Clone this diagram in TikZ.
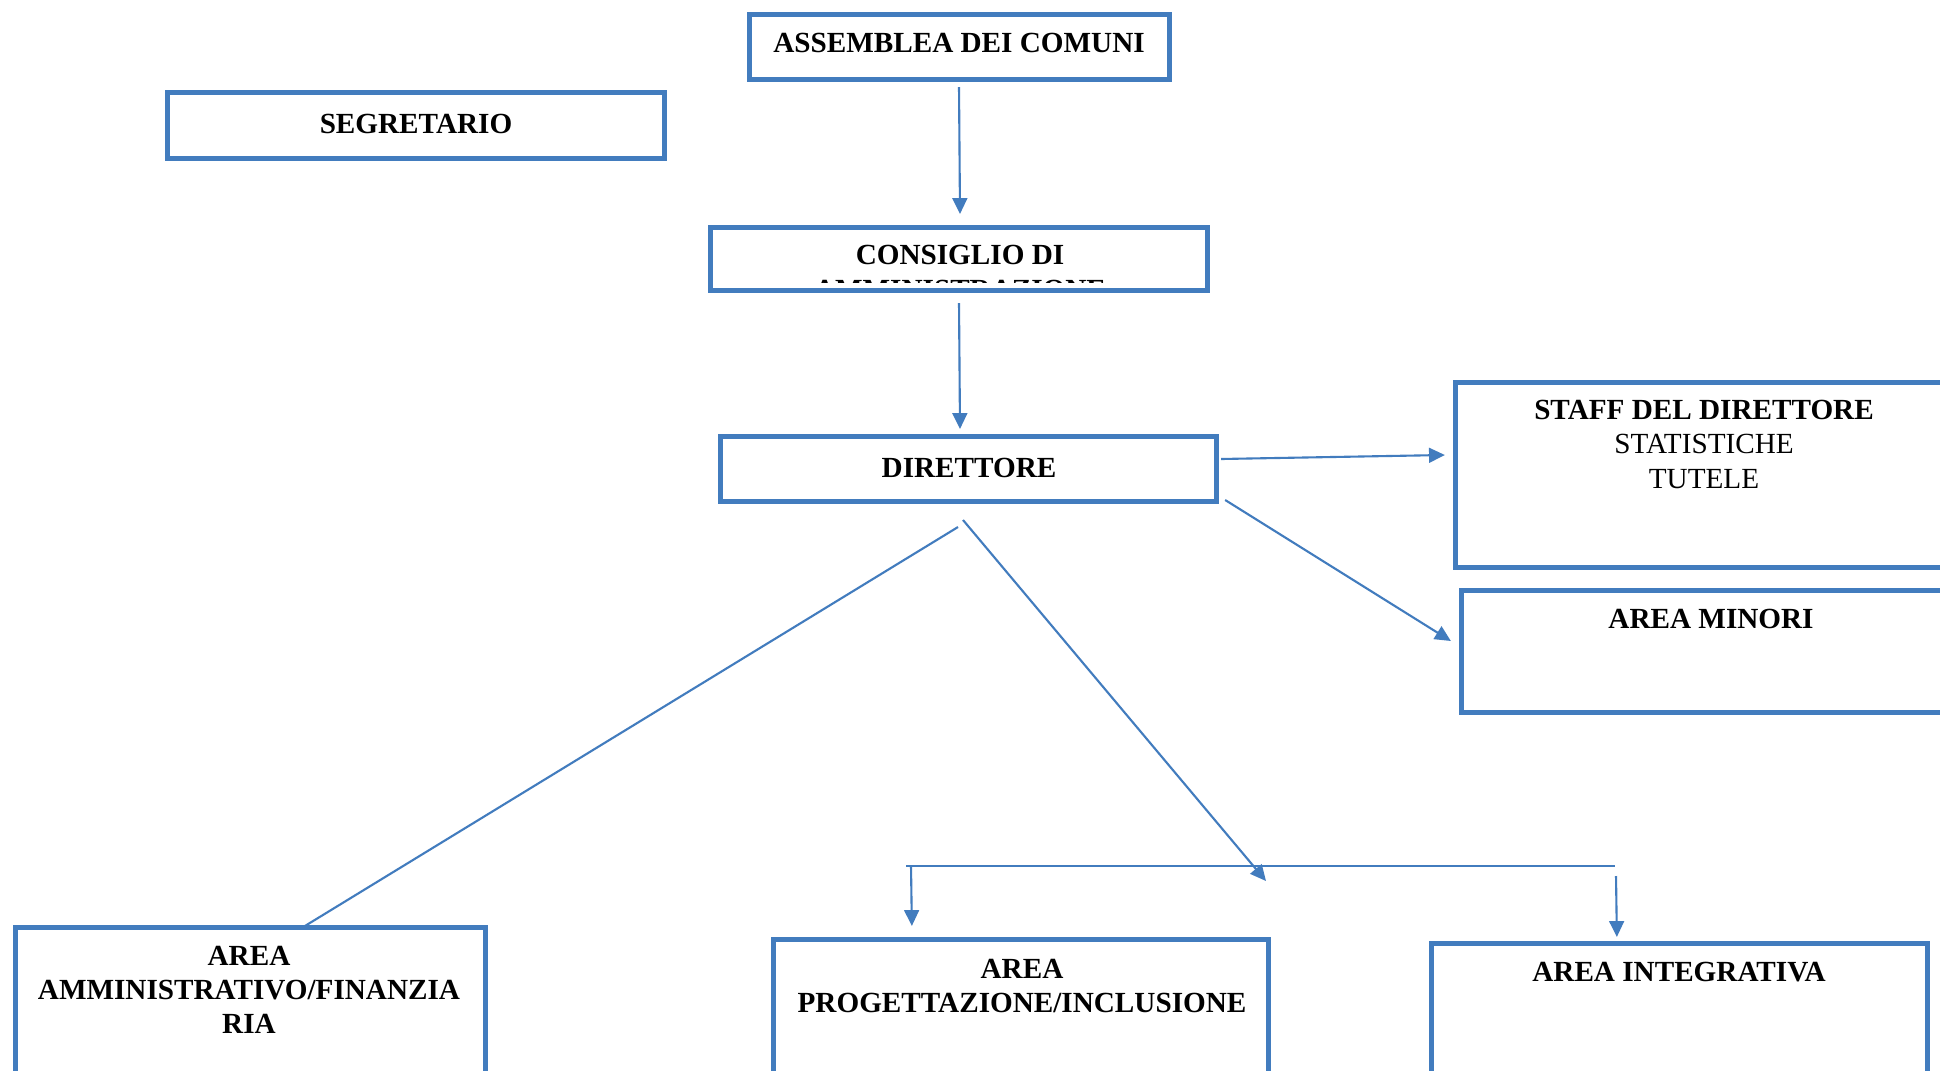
\documentclass[tikz,border=0pt]{standalone}
\usepackage{fontspec}
\setmainfont{Liberation Serif}
\usetikzlibrary{arrows.meta,calc}
\definecolor{boxblue}{RGB}{66,124,190}
\begin{document}
\begin{tikzpicture}[x=0.01cm,y=-0.01cm,
  box/.style={draw=boxblue,line width=1.42pt,inner sep=0pt,outer sep=0pt},
  conn/.style={draw=boxblue,line width=0.6pt},
  arr/.style={conn,-{Triangle[length=4.5pt,width=4.2pt]}},
  txt/.style={anchor=base,inner sep=0pt,align=center,font=\fontsize{8.3}{9.67}\selectfont},
  btxt/.style={txt,font=\bfseries\fontsize{8.3}{9.67}\selectfont}]
\path[use as bounding box,clip] (0,0) rectangle (1940,1070);
\fill[white] (0,0) rectangle (1940,1070);
% boxes
\node[box,minimum width=4.20cm,minimum height=0.65cm] (ass) at (959.5,47) {};
\node[box,minimum width=4.97cm,minimum height=0.66cm] (seg) at (416,125.5) {};
\node[box,minimum width=4.97cm,minimum height=0.63cm] (cons) at (959,259) {};
\node[box,minimum width=4.96cm,minimum height=0.65cm] (dir) at (968.5,469) {};
\node[box,minimum width=5.045cm,minimum height=1.85cm] (staff) at (1707.75,475) {};
\node[box,minimum width=5.035cm,minimum height=1.22cm] (minori) at (1713.25,651.5) {};
\node[box,minimum width=4.70cm,minimum height=1.625cm] (amm) at (250.5,1008.75) {};
\node[box,minimum width=4.95cm,minimum height=1.505cm] (prog) at (1021,1014.75) {};
\node[box,minimum width=4.96cm,minimum height=1.465cm] (integ) at (1679.5,1016.75) {};
% connectors
\draw[arr] ($(ass.south)+(-0.5,7.5)$) -- ($(cons.north)+(1,-13.5)$);
\draw[arr] ($(cons.south)+(0,12.5)$) -- ($(dir.north)+(-8.5,-7.5)$);
\draw[arr] ($(dir.east)+(4.5,-10)$) -- ($(staff.west)+(-10.5,-20)$);
\draw[arr] ($(dir.east)+(8.5,31)$) -- ($(minori.west)+(-10.5,-10.5)$);
\draw[conn] ($(dir.south)+(-10.5,25.5)$) -- ($(amm.north)+(54.5,-1.5)$);
\coordinate (bustip) at (1266,881);
\draw[arr] ($(dir.south)+(-5.5,18.5)$) -- (bustip);
\coordinate (busL) at (906,866);
\coordinate (busR) at (1615,866);
\draw[conn,line width=0.7pt] (busL) -- (busR);
\draw[arr] ($(busL)+(5,0)$) -- ($(prog.north west)+(138.5,-13.5)$);
\draw[arr] ($(busR)+(1,10)$) -- ($(integ.north west)+(185.5,-6.5)$);
% texts (base anchor = baseline of the last line)
\node[btxt] (tass) at (959,53) {ASSEMBLEA DEI COMUNI};
\node[btxt] (tseg) at (416,134) {SEGRETARIO};
\begin{scope}
\clip (710,227) rectangle (1208,282);
\node[btxt] (tcons) at (960,299) {CONSIGLIO DI\\AMMINISTRAZIONE};
\end{scope}
\node[btxt] (tdir) at (969,477) {DIRETTORE};
\node[txt] (tstaff) at (1704,488) {\textbf{STAFF DEL DIRETTORE}\\STATISTICHE\\TUTELE};
\node[btxt] (tmin) at (1711,628) {AREA MINORI};
\node[btxt] (tamm) at (249,1033) {AREA\\AMMINISTRATIVO/FINANZIA\\RIA};
\node[btxt] (tprog) at (1022,1012) {AREA\\PROGETTAZIONE/INCLUSIONE};
\node[btxt] (tint) at (1679,981) {AREA INTEGRATIVA};
\end{tikzpicture}
\end{document}
